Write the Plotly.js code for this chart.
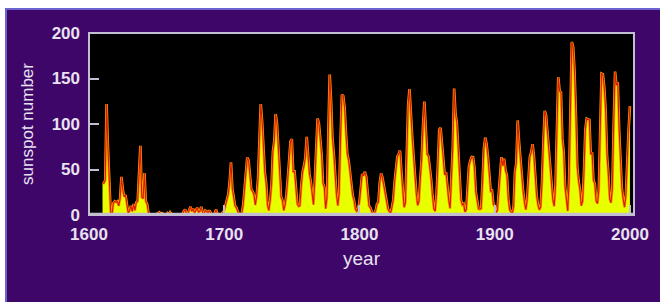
<!DOCTYPE html>
<html>
<head>
<meta charset="utf-8">
<script src="https://cdn.plot.ly/plotly-3.0.1.min.js"></script>
<style>
  html, body { margin: 0; padding: 0; background: #ffffff; width: 660px; height: 302px; overflow: hidden; }
  #frame { position: absolute; left: 5px; top: 8px; border-left: 2px solid #6a64d0; border-top: 2px solid #6a64d0; width: 653px; height: 292px; background: #3e0669; }
  #chart { width: 653px; height: 292px; }
</style>
</head>
<body>
<div id="frame"><div id="chart"></div></div>
<script>
// Group sunspot numbers, 1610-1699
const early1610 = [35,35,38,122,75,30,3,0,13,15, 14,15,10,18,42,28,20,22,12,2,
                   5,10,4,12,5,14,15,40,76,20, 18,46,15,12,2,0,0,0,0,0,
                   1,2,3,1,2,1,0,0,2,0, 3,1,0,0,0,0,0,0,0,0,
                   4,6,2,0,5,9,4,7,2,5, 8,3,4,9,3,1,5,4,2,5,
                   2,0,0,2,6,1,0,0,1,3];
// Yearly sunspot numbers 1700-1799
const wolf1700 = [5,11,16,23,36,58,29,20,10,8, 3,0,0,2,11,27,47,63,60,39,
                  28,26,22,11,21,40,78,122,103,73, 47,35,11,5,16,34,70,81,111,101,
                  73,40,20,16,5,11,22,40,60,80.9, 83.4,47.7,47.8,30.7,12.2,9.6,10.2,32.4,47.6,54.0,
                  62.9,85.9,61.2,45.1,36.4,20.9,11.4,37.8,69.8,106.1, 100.8,81.6,66.5,34.8,30.6,7.0,19.8,92.5,154.4,125.9,
                  84.8,68.1,38.5,22.8,10.2,24.1,82.9,132.0,130.9,118.1, 89.9,66.6,60.0,46.9,41.0,21.3,16.0,6.4,4.1,6.8];
// Yearly sunspot numbers 1800-1899
const wolf1800 = [14.5,34.0,45.0,43.1,47.5,42.2,28.1,10.1,8.1,2.5, 0.0,1.4,5.0,12.2,13.9,35.4,45.8,41.1,30.1,23.9,
                  15.6,6.6,4.0,1.8,8.5,16.6,36.3,49.6,64.2,67.0, 70.9,47.8,27.5,8.5,13.2,56.9,121.5,138.3,103.2,85.7,
                  64.6,36.7,24.2,10.7,15.0,40.1,61.5,98.5,124.7,96.3, 66.6,64.5,54.1,39.0,20.6,6.7,4.3,22.7,54.8,93.8,
                  95.8,77.2,59.1,44.0,47.0,30.5,16.3,7.3,37.6,74.0, 139.0,111.2,101.6,66.2,44.7,17.0,11.3,12.4,3.4,6.0,
                  32.3,54.3,59.7,63.7,63.5,52.2,25.4,13.1,6.8,6.3, 7.1,35.6,73.0,85.1,78.0,64.0,41.8,26.2,26.7,12.1];
// Yearly sunspot numbers 1900-2000
const wolf1900 = [9.5,2.7,5.0,24.4,42.0,63.5,53.8,62.0,48.5,43.9, 18.6,5.7,3.6,1.4,9.6,47.4,57.1,103.9,80.6,63.6,
                  37.6,26.1,14.2,5.8,16.7,44.3,63.9,69.0,77.8,64.9, 35.7,21.2,11.1,5.7,8.7,36.1,79.7,114.4,109.6,88.8,
                  67.8,47.5,30.6,16.3,9.6,33.2,92.6,151.6,136.3,134.7, 83.9,69.4,31.5,13.9,4.4,38.0,141.7,190.2,184.8,159.0,
                  112.3,53.9,37.6,27.9,10.2,15.1,47.0,93.8,105.9,105.5, 104.5,66.6,68.9,38.0,34.5,15.5,12.6,27.5,92.5,155.4,
                  154.6,140.5,115.9,66.6,45.9,17.9,13.4,29.4,100.2,157.6, 142.6,145.7,94.3,54.6,29.9,17.5,8.6,21.5,64.3,93.3,
                  119.6];
const firstYear = 1610;
const xTickVals = [1600, 1700, 1800, 1900, 2000];
const xTickText = ['1600', '1700', '1800', '1900', '2000'];
const yTickVals = [0, 50, 100, 150, 200];
const yTickText = ['0', '50', '100', '150', '200'];

const sunspots = early1610.concat(wolf1700, wolf1800, wolf1900);
const years = sunspots.map((_, i) => firstYear + i);

const textColor = '#e8e2f0';
const frameColor = '#c4bed2';
const tickFont = { family: 'Liberation Sans, Arial, sans-serif', size: 17, color: textColor, weight: 'bold' };

const traces = [
  { x: years, y: sunspots, type: 'scatter', mode: 'lines', fill: 'tozeroy',
    fillcolor: '#e8ff00', line: { color: '#ff9a00', width: 2.6 }, hoverinfo: 'x+y' },
  { x: years, y: sunspots, type: 'scatter', mode: 'lines',
    line: { color: '#d81800', width: 1.1 }, hoverinfo: 'skip' }
];

const plotH = 182;
const layout = {
  width: 653, height: 292,
  margin: { l: 82, r: 26, t: 23, b: 87, pad: 0 },
  paper_bgcolor: '#3e0669',
  plot_bgcolor: '#000000',
  showlegend: false,
  xaxis: {
    range: [1600, 2003], tickvals: xTickVals, ticktext: xTickText,
    ticks: 'inside', ticklen: 10, tickwidth: 2, tickcolor: frameColor,
    showgrid: false, zeroline: false, showline: false,
    tickfont: tickFont, ticklabelstandoff: 7,
    title: { text: 'year', font: { family: 'Liberation Sans, Arial, sans-serif', size: 19, color: textColor }, standoff: 8 }
  },
  yaxis: {
    range: [0, 200], tickvals: yTickVals, ticktext: yTickText,
    ticks: 'inside', ticklen: 10, tickwidth: 2, tickcolor: frameColor,
    showgrid: false, zeroline: false, showline: false,
    tickfont: tickFont, ticklabelstandoff: 8,
    title: { text: 'sunspot number', font: { family: 'Liberation Sans, Arial, sans-serif', size: 17, color: textColor }, standoff: 13 }
  },
  shapes: [
    { type: 'rect', xref: 'paper', yref: 'paper', x0: 0, x1: 1, y0: 0, y1: 2.2 / plotH,
      fillcolor: frameColor, line: { width: 0 }, layer: 'above' },
    { type: 'rect', xref: 'paper', yref: 'paper', x0: 0, x1: 1, y0: 0, y1: 1,
      line: { color: frameColor, width: 2 }, layer: 'above' }
  ]
};

Plotly.newPlot('chart', traces, layout, { displayModeBar: false, staticPlot: true });
</script>
</body>
</html>
